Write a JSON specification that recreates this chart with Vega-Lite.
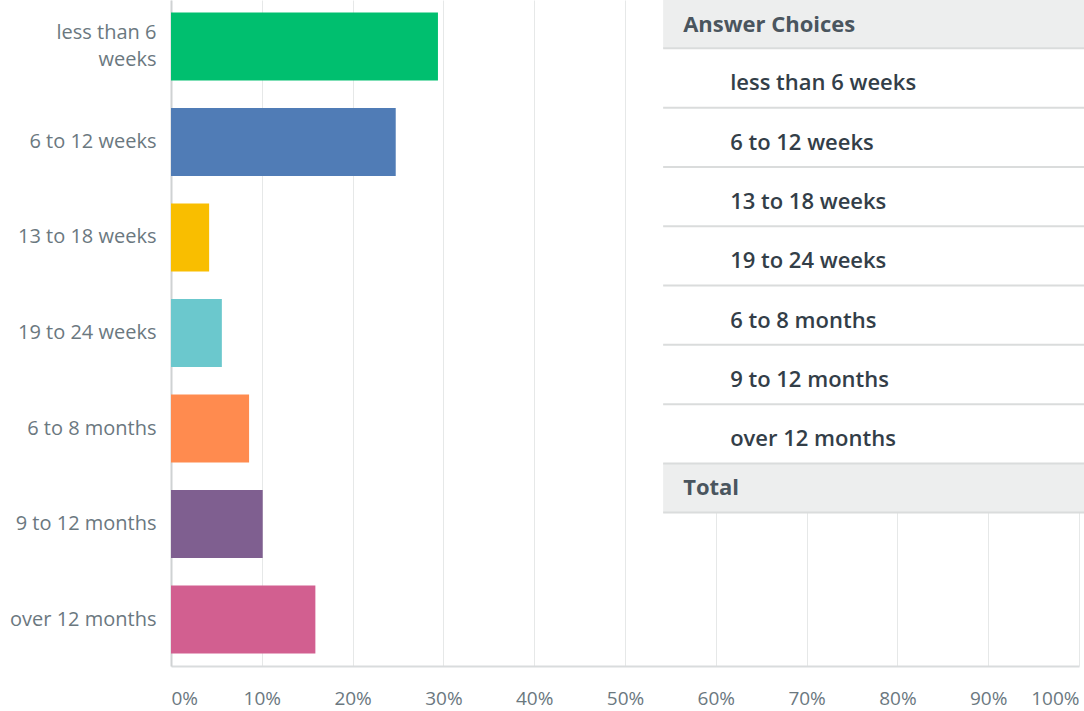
{
  "$schema": "https://vega.github.io/schema/vega-lite/v6.json",
  "width": 908,
  "height": 666,
  "autosize": {"type": "none"},
  "padding": {"left": 171, "top": 0, "right": 5, "bottom": 45},
  "background": "#ffffff",
  "config": {"view": {"stroke": null}},
  "datasets": {
    "bars": [
      {"choice": "less than 6 weeks", "pct": 29.4},
      {"choice": "6 to 12 weeks", "pct": 24.75},
      {"choice": "13 to 18 weeks", "pct": 4.2},
      {"choice": "19 to 24 weeks", "pct": 5.6},
      {"choice": "6 to 8 months", "pct": 8.6},
      {"choice": "9 to 12 months", "pct": 10.1},
      {"choice": "over 12 months", "pct": 15.9}
    ],
    "table": [
      {"label": "Answer Choices", "kind": "header", "top": 0, "bottom": 0.815},
      {"label": "less than 6 weeks", "kind": "choice", "top": 0.815, "bottom": 1.815},
      {"label": "6 to 12 weeks", "kind": "choice", "top": 1.815, "bottom": 2.815},
      {"label": "13 to 18 weeks", "kind": "choice", "top": 2.815, "bottom": 3.815},
      {"label": "19 to 24 weeks", "kind": "choice", "top": 3.815, "bottom": 4.815},
      {"label": "6 to 8 months", "kind": "choice", "top": 4.815, "bottom": 5.815},
      {"label": "9 to 12 months", "kind": "choice", "top": 5.815, "bottom": 6.815},
      {"label": "over 12 months", "kind": "choice", "top": 6.815, "bottom": 7.815},
      {"label": "Total", "kind": "total", "top": 7.815, "bottom": 8.64}
    ]
  },
  "layer": [
    {
      "data": {"name": "bars"},
      "mark": {"type": "bar"},
      "encoding": {
        "y": {
          "field": "choice",
          "type": "nominal",
          "sort": null,
          "scale": {"paddingInner": 0.288, "paddingOuter": 0.13},
          "axis": {
            "title": null,
            "ticks": false,
            "domainColor": "#cfd2d3",
            "domainWidth": 2,
            "labelPadding": 15,
            "labelFont": "Open Sans",
            "labelFontSize": 20,
            "labelColor": "#6b787f",
            "labelLimit": 250,
            "labelLineHeight": 27,
            "labelOffset": {"condition": {"test": "datum.value == 'less than 6 weeks'", "value": -13}, "value": 0},
            "labelExpr": "datum.value == 'less than 6 weeks' ? ['less than 6', 'weeks'] : datum.label"
          }
        },
        "x": {
          "field": "pct",
          "type": "quantitative",
          "scale": {"domain": [0, 100], "nice": false},
          "axis": {
            "title": null,
            "values": [0, 10, 20, 30, 40, 50, 60, 70, 80, 90, 100],
            "labelExpr": "datum.value + '%'",
            "labelFlush": true,
            "ticks": false,
            "domainColor": "#d9dcdd",
            "domainWidth": 2,
            "grid": true,
            "gridColor": "#e6e8e8",
            "gridWidth": 1,
            "labelPadding": 23,
            "labelFont": "Open Sans",
            "labelFontSize": 19,
            "labelColor": "#6b787f"
          }
        },
        "color": {
          "field": "choice",
          "type": "nominal",
          "legend": null,
          "scale": {
            "domain": ["less than 6 weeks", "6 to 12 weeks", "13 to 18 weeks", "19 to 24 weeks", "6 to 8 months", "9 to 12 months", "over 12 months"],
            "range": ["#00bf6f", "#507cb6", "#f9be00", "#6bc8cd", "#ff8b4f", "#7f5f90", "#d25f90"]
          }
        }
      }
    },
    {
      "data": {"name": "table"},
      "layer": [
        {
          "mark": {"type": "rect"},
          "encoding": {
            "x": {"datum": 54.2, "type": "quantitative"},
            "x2": {"datum": 100.6},
            "y": {"field": "top", "type": "quantitative", "scale": {"domain": [0, 11.23], "reverse": true, "nice": false, "zero": false}, "axis": null},
            "y2": {"field": "bottom"},
            "fill": {"condition": {"test": "datum.kind != 'choice'", "value": "#edeeee"}, "value": "#ffffff"}
          }
        },
        {
          "mark": {"type": "rule", "stroke": "#dadcdc", "strokeWidth": 2},
          "encoding": {
            "x": {"datum": 54.2, "type": "quantitative"},
            "x2": {"datum": 100.6},
            "y": {"field": "bottom", "type": "quantitative", "scale": {"domain": [0, 11.23], "reverse": true, "nice": false, "zero": false}, "axis": null}
          }
        },
        {
          "transform": [{"filter": "datum.kind != 'choice'"}],
          "mark": {"type": "text", "align": "left", "baseline": "middle", "dx": 20, "dy": 25, "font": "Open Sans", "fontSize": 22, "fontWeight": "bold", "fill": "#4a555e"},
          "encoding": {
            "x": {"datum": 54.2, "type": "quantitative"},
            "y": {"field": "top", "type": "quantitative", "scale": {"domain": [0, 11.23], "reverse": true, "nice": false, "zero": false}, "axis": null},
            "text": {"field": "label"}
          }
        },
        {
          "transform": [{"filter": "datum.kind == 'choice'"}],
          "mark": {"type": "text", "align": "left", "baseline": "middle", "dx": 67, "dy": 35, "font": "Open Sans", "fontSize": 22, "fontWeight": 600, "fill": "#333e48"},
          "encoding": {
            "x": {"datum": 54.2, "type": "quantitative"},
            "y": {"field": "top", "type": "quantitative", "scale": {"domain": [0, 11.23], "reverse": true, "nice": false, "zero": false}, "axis": null},
            "text": {"field": "label"}
          }
        }
      ]
    }
  ],
  "resolve": {"scale": {"y": "independent"}, "axis": {"y": "independent"}}
}
